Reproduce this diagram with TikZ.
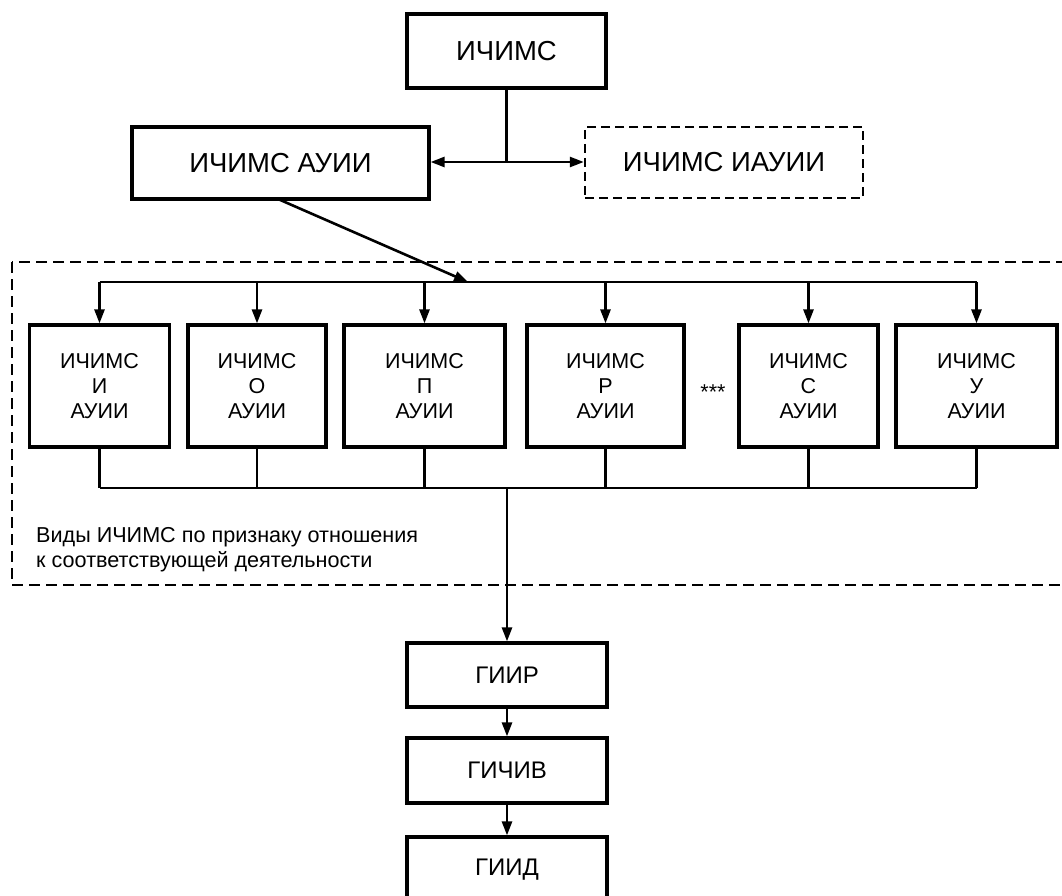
\documentclass[tikz,border=0pt]{standalone}
\usepackage{fontspec}
\setmainfont{Liberation Sans}
\usetikzlibrary{arrows.meta,calc}
\begin{document}
\begin{tikzpicture}[x=1pt,y=-1pt,
  box/.style={draw=black,line width=3.2pt,rectangle,inner sep=0pt,align=center},
  dbox/.style={draw=black,line width=2.4pt,dash pattern=on 9pt off 5pt,rectangle,inner sep=0pt,align=center},
  conn/.style={draw=black,line width=2.6pt},
  arr/.style={conn,-{Triangle[length=14pt,width=10pt]}},
  framedash/.style={draw=black,line width=2.2pt,dash pattern=on 11pt off 6pt},
  bigtxt/.style={font=\fontsize{27.5}{31}\selectfont},
  midtxt/.style={font=\fontsize{24}{28}\selectfont},
  smtxt/.style={font=\fontsize{21.5}{24.7}\selectfont},
  lbl/.style={font=\fontsize{21.6}{25}\selectfont,align=left,inner sep=0pt,anchor=base west}
]
\useasboundingbox (0,0) rectangle (1062,896);

% top level
\node[box,bigtxt,minimum width=199pt,minimum height=74pt] (top) at (506.5,51) {ИЧИМС};
\node[box,bigtxt,minimum width=297pt,minimum height=72pt] (lbox) at (280.5,163) {ИЧИМС АУИИ};
\node[dbox,bigtxt,minimum width=278pt,minimum height=71pt] (rbox) at (724,162.5) {ИЧИМС ИАУИИ};

\coordinate (junc) at (506.5,162);
\draw[conn] (top.south) -- (junc);
\draw[arr] (junc) -- (lbox.east |- junc);
\draw[arr] (junc) -- (rbox.west |- junc);

% frame
\draw[framedash] (12,262) rectangle (1075,585);
\node[lbl] (frlabel) at (36,567) {Виды ИЧИМС по признаку отношения\\к соответствующей деятельности};

% row of boxes
\node[box,smtxt,minimum width=140pt,minimum height=122pt] (b1) at (99.5,386) {ИЧИМС\\И\\АУИИ};
\node[box,smtxt,minimum width=138pt,minimum height=122pt] (b2) at (257,386) {ИЧИМС\\О\\АУИИ};
\node[box,smtxt,minimum width=161pt,minimum height=122pt] (b3) at (424.5,386) {ИЧИМС\\П\\АУИИ};
\node[box,smtxt,minimum width=157pt,minimum height=122pt] (b4) at (605.5,386) {ИЧИМС\\Р\\АУИИ};
\node[smtxt,inner sep=0pt] (dots) at (713,392) {***};
\node[box,smtxt,minimum width=139pt,minimum height=122pt] (b5) at (808.5,386) {ИЧИМС\\С\\АУИИ};
\node[box,smtxt,minimum width=161pt,minimum height=122pt] (b6) at (976.5,386) {ИЧИМС\\У\\АУИИ};

\coordinate (busy) at (0,282);
\coordinate (boty) at (0,488);
\coordinate (diagstart) at (278,199);
\coordinate (diagend) at (468,282);
\draw[arr] (diagstart) -- (diagend);
\draw[conn] (b1.north |- busy) -- (b6.north |- busy);
\foreach \i in {1,...,6} {
  \draw[arr] (b\i.north |- busy) -- (b\i.north);
  \draw[conn] (b\i.south) -- (b\i.south |- boty);
}
\draw[conn] (b1.south |- boty) -- (b6.south |- boty);

% bottom chain
\node[box,midtxt,minimum width=200pt,minimum height=64pt] (gir) at (507,675) {ГИИР};
\node[box,midtxt,minimum width=200pt,minimum height=65pt] (gich) at (507,770.5) {ГИЧИВ};
\node[box,midtxt,minimum width=200pt,minimum height=65pt] (gid) at (507,869.5) {ГИИД};

\draw[arr] (gir.north |- boty) -- (gir.north);
\draw[arr] (gir.south) -- (gich.north);
\draw[arr] (gich.south) -- (gid.north);
\end{tikzpicture}
\end{document}
